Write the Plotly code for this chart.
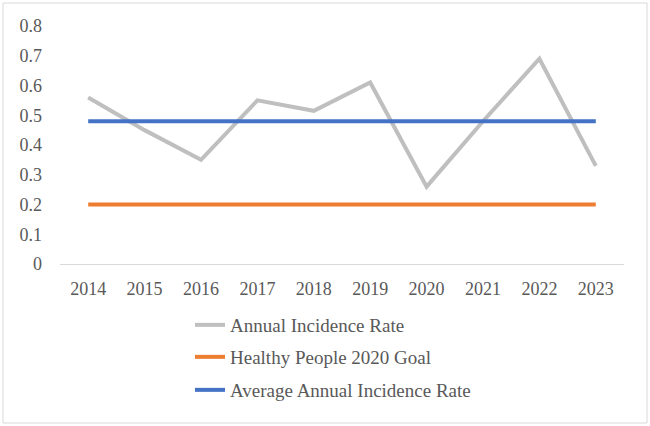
import plotly.graph_objects as go

years = ["2014", "2015", "2016", "2017", "2018", "2019", "2020", "2021", "2022", "2023"]
annual_rate = [0.56, 0.45, 0.35, 0.55, 0.515, 0.61, 0.26, 0.48, 0.69, 0.33]
goal_rate = [0.2] * 10
avg_rate = [0.48] * 10
y_ticks = [0, 0.1, 0.2, 0.3, 0.4, 0.5, 0.6, 0.7, 0.8]
y_tick_text = ["0", "0.1", "0.2", "0.3", "0.4", "0.5", "0.6", "0.7", "0.8"]

FONT = '"Liberation Serif", "DejaVu Serif", serif'
TXT = "#595959"

fig = go.Figure()
fig.add_trace(go.Scatter(x=years, y=annual_rate, mode="lines", name="Annual Incidence Rate",
                         line=dict(color="#BFBFBF", width=4), legend="legend"))
fig.add_trace(go.Scatter(x=years, y=goal_rate, mode="lines", name="Healthy People 2020 Goal",
                         line=dict(color="#ED7D31", width=4), legend="legend2"))
fig.add_trace(go.Scatter(x=years, y=avg_rate, mode="lines", name="Average Annual Incidence Rate",
                         line=dict(color="#4472C4", width=4), legend="legend3"))

L, R, T, B = 60, 26, 26, 162
W, H = 650, 426
pw, ph = W - L - R, H - T - B

def px(x):
    return (x - L) / pw

def py(y):
    return (H - B - y) / ph

leg_common = dict(xanchor="left", yanchor="middle", bgcolor="rgba(0,0,0,0)",
                  font=dict(family=FONT, size=19, color=TXT), itemwidth=30)
fig.update_layout(
    width=W, height=H,
    margin=dict(l=L, r=R, t=T, b=B),
    paper_bgcolor="white", plot_bgcolor="white",
    font=dict(family=FONT, size=18, color=TXT),
    showlegend=True,
    legend=dict(x=px(190), y=py(325), **leg_common),
    legend2=dict(x=px(190), y=py(357), **leg_common),
    legend3=dict(x=px(190), y=py(390), **leg_common),
    xaxis=dict(type="category", range=[-0.5, len(years) - 0.5], showgrid=False, showline=True,
               linecolor="#D9D9D9", linewidth=1,
               ticks="", tickfont=dict(family=FONT, size=18, color=TXT), ticklabelstandoff=8,
               fixedrange=True),
    yaxis=dict(range=[0, 0.8], tickvals=y_ticks, ticktext=y_tick_text, showgrid=False,
               zeroline=False, showline=False, ticks="",
               tickfont=dict(family=FONT, size=18, color=TXT), ticklabelstandoff=17),
    shapes=[dict(type="rect", xref="paper", yref="paper",
                 x0=px(3), x1=px(647), y0=py(423), y1=py(3),
                 line=dict(color="#D9D9D9", width=1), fillcolor="rgba(0,0,0,0)", layer="below")],
)

fig.write_html("out.html")
